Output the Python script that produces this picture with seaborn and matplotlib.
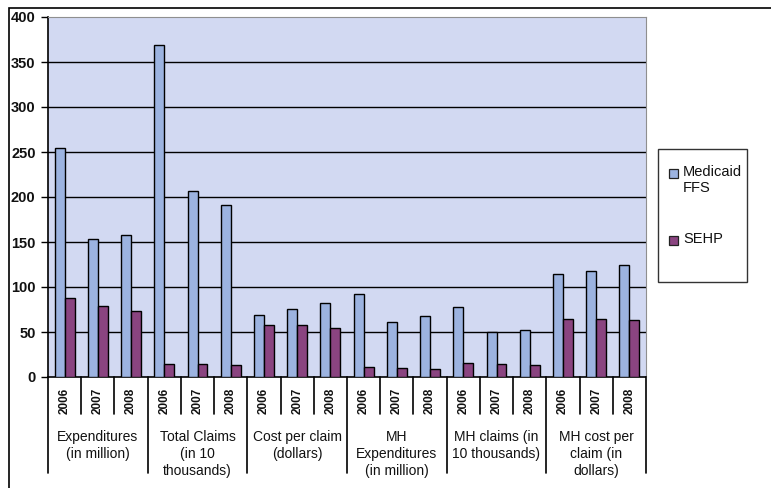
import matplotlib
matplotlib.use("Agg")
import matplotlib.pyplot as plt
import matplotlib.transforms as mtransforms
from matplotlib.patches import Rectangle
import seaborn as sns
import pandas as pd

# ---- data -------------------------------------------------------------
groups = [
    "Expenditures\n(in million)",
    "Total Claims\n(in 10\nthousands)",
    "Cost per claim\n(dollars)",
    "MH\nExpenditures\n(in million)",
    "MH claims (in\n10 thousands)",
    "MH cost per\nclaim (in\ndollars)",
]
years = ["2006", "2007", "2008"]
series = ["Medicaid\nFFS", "SEHP"]

medicaid_ffs = [255, 153, 158, 369, 207, 191, 69, 76, 82, 92, 61, 68, 78, 50, 52, 114, 118, 124]
sehp = [88, 79, 73, 15, 15, 13, 58, 58, 55, 11, 10, 9, 16, 14, 13, 64, 64, 63]

# ---- long table for seaborn -------------------------------------------
keys = [f"{g}|{y}" for g in groups for y in years]
df = pd.DataFrame({
    "key": keys * 2,
    "value": medicaid_ffs + sehp,
    "series": [series[0]] * len(keys) + [series[1]] * len(keys),
})

# ---- style ------------------------------------------------------------
sns.set_theme(style="white")
plt.rcParams["font.family"] = ["Liberation Sans", "DejaVu Sans"]

W, H = 771, 488
fig = plt.figure(figsize=(W / 100, H / 100), dpi=100)
fig.patch.set_facecolor("white")

ax_left, ax_right, ax_top, ax_bottom = 48, 646, 17, 377
ax = fig.add_axes([ax_left / W, 1 - ax_bottom / H,
                   (ax_right - ax_left) / W, (ax_bottom - ax_top) / H])
ax.set_facecolor("#d2d9f2")

palette = {series[0]: "#9cb3e0", series[1]: "#8a4480"}
sns.barplot(data=df, x="key", y="value", hue="series", order=keys,
            hue_order=series, palette=palette, width=0.6,
            edgecolor="black", linewidth=1.0, saturation=1,
            ax=ax, legend=False, zorder=3)

# horizontal grid lines
ax.set_ylim(0, 400)
ax.set_yticks(range(0, 401, 50))
for yv in range(50, 400, 50):
    ax.axhline(yv, color="black", lw=1.0, zorder=1)

ax.set_xlim(-0.5, len(keys) - 0.5)
ax.set_xlabel("")
ax.set_ylabel("")

# spines
for side in ("top", "right"):
    ax.spines[side].set_color("#8f8f8f")
    ax.spines[side].set_linewidth(0.8)
ax.spines["left"].set_color("black")
ax.spines["left"].set_linewidth(1.2)
ax.spines["bottom"].set_color("black")
ax.spines["bottom"].set_linewidth(1.2)

ax.tick_params(axis="y", length=5, width=1, color="black", pad=4,
               labelsize=10.5, left=True, labelcolor="#111111")
for t in ax.get_yticklabels():
    t.set_fontweight("bold")

# year tick labels
ax.set_xticks(range(len(keys)))
ax.set_xticklabels([k.split("|")[1] for k in keys], rotation=90,
                   fontsize=8.5, fontweight="bold", va="top", color="#111111")
ax.tick_params(axis="x", length=0, pad=8)

# category separators below the axis
trans = mtransforms.blended_transform_factory(ax.transData, ax.transAxes)
ax_h = ax_bottom - ax_top
for i in range(len(keys) + 1):
    x = i - 0.5
    depth = 96 if i % 3 == 0 else 37
    ax.plot([x, x], [0, -depth / ax_h], color="black", lw=1.2,
            transform=trans, clip_on=False)

# group labels
for gi, g in enumerate(groups):
    xc = gi * 3 + 1
    ax.text(xc, -(430 - ax_bottom) / ax_h, g, transform=trans,
            ha="center", va="top", multialignment="center",
            fontsize=10, linespacing=1.25, color="#111111")

# legend box with a swatch and name per series
fig.add_artist(Rectangle((658 / W, 1 - 282 / H), (747 - 658) / W, (282 - 149) / H,
                         transform=fig.transFigure, facecolor="white",
                         edgecolor="#333333", lw=1.0))
for name, yc in zip(series, [173, 240]):
    fig.add_artist(Rectangle((669 / W, 1 - (yc + 5) / H), 9 / W, 9 / H,
                             transform=fig.transFigure,
                             facecolor=palette[name], edgecolor="#222222",
                             lw=0.9))
    fig.text(683 / W, 1 - (yc - 8) / H, name, ha="left", va="top",
             fontsize=10.5, linespacing=1.2, color="#111111")

# outer chart frame
fig.add_artist(Rectangle((9 / W, -0.2), 1.2, 1.2 - 8 / H,
                         transform=fig.transFigure, fill=False,
                         edgecolor="black", lw=1.2))

fig.savefig("out.png", dpi=100)
